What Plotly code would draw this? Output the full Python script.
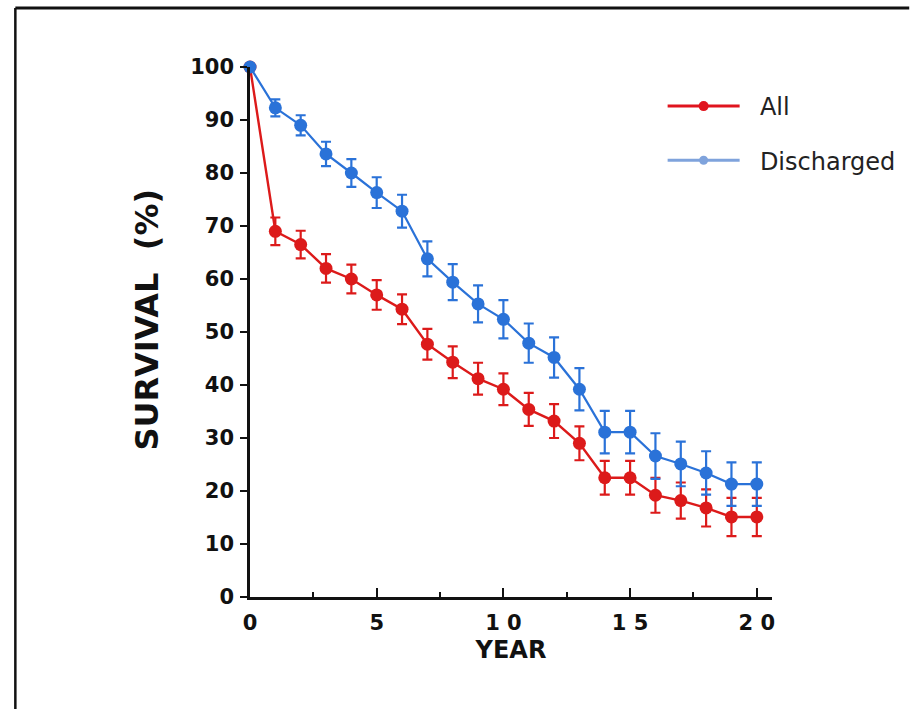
import plotly.graph_objects as go

years = list(range(0, 21))
all_surv = [100, 69, 66.5, 62, 60, 57, 54.3, 47.7, 44.3, 41.2, 39.2, 35.4, 33.2, 29, 22.5, 22.5, 19.2, 18.2, 16.8, 15.1, 15.1]
all_err = [0, 2.6, 2.6, 2.7, 2.7, 2.8, 2.8, 2.9, 3, 3, 3, 3.1, 3.2, 3.2, 3.2, 3.2, 3.3, 3.4, 3.5, 3.6, 3.6]
dis_surv = [100, 92.3, 89, 83.6, 80, 76.3, 72.8, 63.8, 59.4, 55.3, 52.4, 47.9, 45.2, 39.2, 31.1, 31.1, 26.6, 25.1, 23.4, 21.3, 21.3]
dis_err = [0, 1.6, 1.9, 2.3, 2.6, 2.9, 3.1, 3.3, 3.4, 3.5, 3.6, 3.7, 3.8, 4, 4, 4, 4.3, 4.2, 4.1, 4.1, 4.1]

x_tickvals = [0, 5, 10, 15, 20]
x_ticktext = ["0", "5", "1 0", "1 5", "2 0"]
y_tickvals = list(range(0, 101, 10))

RED = "#dc1a1a"
BLUE = "#2a72d8"
BOLD = "DejaVu Sans"
PAD = "\u00a0\u00a0"

fig = go.Figure()
fig.add_trace(go.Scatter(
    x=years, y=all_surv, mode="lines+markers", name="All", showlegend=False,
    line=dict(color=RED, width=2.4), marker=dict(color=RED, size=13),
    error_y=dict(type="data", array=all_err, color=RED, thickness=2.2, width=5),
    cliponaxis=False))
fig.add_trace(go.Scatter(
    x=years, y=dis_surv, mode="lines+markers", name="Discharged", showlegend=False,
    line=dict(color=BLUE, width=2.2), marker=dict(color=BLUE, size=13),
    error_y=dict(type="data", array=dis_err, color=BLUE, thickness=2.2, width=5),
    cliponaxis=False))
# legend entries
fig.add_trace(go.Scatter(x=[None], y=[None], mode="lines+markers", name=PAD + "All",
                         legendgroup="a", line=dict(color="#e0141e", width=3),
                         marker=dict(color="#e0141e", size=10)))
fig.add_trace(go.Scatter(x=[None], y=[None], mode="lines+markers", name=PAD + "Discharged",
                         legendgroup="b", line=dict(color="#7fa3dc", width=3),
                         marker=dict(color="#7fa3dc", size=9)))

L, R, T, B = 250, 775, 67, 597
W, H = 913, 709

def px(x):
    return (x - L) / (R - L)

def py(y):
    return (B - y) / (B - T)

fig.update_layout(
    width=W, height=H,
    margin=dict(l=L, r=W - R, t=T, b=H - B, pad=0),
    paper_bgcolor="white", plot_bgcolor="white",
    font=dict(family="DejaVu Sans, Liberation Sans, sans-serif", color="#111"),
    legend=dict(x=px(665), y=py(84), xanchor="left", yanchor="top",
                font=dict(size=24, color="#222", family="DejaVu Sans"), itemwidth=72,
                tracegroupgap=20, traceorder="grouped", bgcolor="rgba(0,0,0,0)"),
    xaxis=dict(range=[0, 20.6], showgrid=False, zeroline=False,
               showline=True, linecolor="#111", linewidth=2.5,
               tickvals=x_tickvals, ticktext=x_ticktext,
               ticks="inside", ticklen=9, tickwidth=2, tickcolor="#111",
               ticklabelstandoff=5,
               minor=dict(dtick=2.5, tick0=0, ticks="inside", ticklen=5, tickwidth=2, tickcolor="#111"),
               tickfont=dict(size=21, family=BOLD, weight="bold"),
               title=dict(text="<b>YEAR</b>", font=dict(size=24, family=BOLD), standoff=8)),
    yaxis=dict(range=[0, 100], showgrid=False, zeroline=False,
               showline=True, linecolor="#111", linewidth=2.5,
               tickvals=y_tickvals, ticks="outside", ticklen=7, tickwidth=2, tickcolor="#111",
               ticklabelstandoff=2,
               tickfont=dict(size=21, family=BOLD, weight="bold")),
    annotations=[
        dict(text="<b>SURVIVAL  (%)</b>", textangle=-90, xref="paper", yref="paper",
             x=px(146), y=py(320), xanchor="center", yanchor="middle", showarrow=False,
             font=dict(size=32, family=BOLD, color="#111")),
    ],
    shapes=[
        dict(type="line", xref="paper", yref="paper", x0=px(14), x1=px(913), y0=py(8), y1=py(8),
             line=dict(color="#111", width=3)),
        dict(type="line", xref="paper", yref="paper", x0=px(14), x1=px(14), y0=py(8), y1=py(709),
             line=dict(color="#111", width=2.5)),
    ],
)

fig.write_html("out.html", config={"displayModeBar": False},
               post_script="document.body.style.margin='0';document.body.style.overflow='hidden';")
